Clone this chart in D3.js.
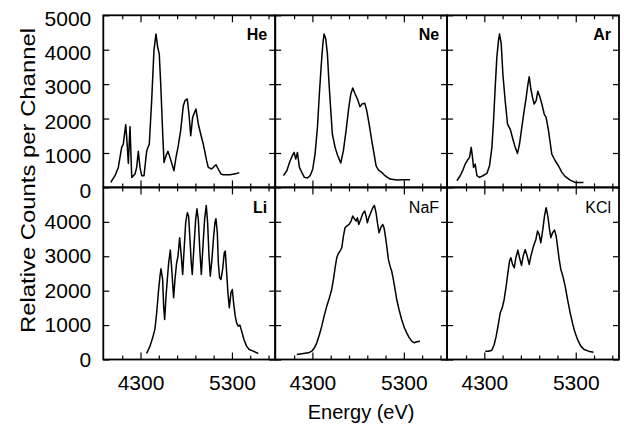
<!DOCTYPE html>
<html>
<head>
<meta charset="utf-8">
<script src="https://cdn.jsdelivr.net/npm/d3@7"></script>
<style>
body { margin: 0; background: #fff; }
text { font-family: "Liberation Sans", Arial, Helvetica, sans-serif; fill: #000; }
</style>
</head>
<body>
<div id="chart"></div>
<script>
// spectra: [energy (eV), relative counts per channel]
var heSpectrum = [[3974,145],[4021,340],[4057,581],[4094,1163],[4112,1262],[4138,1823],[4149,1454],[4167,698],
    [4185,1765],[4204,291],[4240,390],[4258,581],[4276,1047],[4294,581],[4313,340],[4338,340],[4368,1067],
    [4396,1262],[4422,2520],[4447,3974],[4469,4459],[4488,4070],[4505,3878],[4521,3006],[4543,1552],[4557,727],
    [4579,921],[4600,1047],[4622,872],[4644,680],[4666,485],[4688,872],[4713,1212],[4739,1648],[4768,2375],
    [4786,2520],[4811,2570],[4830,2134],[4849,1503],[4870,2035],[4906,2279],[4932,1843],[4958,1552],[4986,1262],
    [5023,776],[5041,581],[5078,535],[5125,660],[5150,535],[5180,390],[5205,369],[5278,369],[5351,407],[5380,427]];

var neSpectrum = [[3983,340],[4020,485],[4056,776],[4086,951],[4100,1017],[4118,826],[4136,1017],[4158,581],
    [4184,436],[4212,291],[4245,273],[4275,340],[4304,535],[4329,971],[4355,1744],[4376,2715],[4395,3488],
    [4414,4169],[4428,4459],[4446,4314],[4464,3878],[4482,3006],[4501,2230],[4518,1552],[4548,1163],[4577,921],
    [4610,709],[4639,1067],[4668,1648],[4698,2326],[4720,2715],[4741,2890],[4767,2715],[4792,2570],[4821,2346],
    [4843,2424],[4873,2442],[4894,2230],[4920,1843],[4949,1358],[4974,971],[4996,631],[5021,506],[5058,436],
    [5094,340],[5149,244],[5222,215],[5295,224],[5368,224]];

var arSpectrum = [[4000,194],[4036,339],[4066,504],[4091,678],[4117,795],[4138,872],[4157,1163],[4171,872],
    [4182,581],[4200,678],[4219,339],[4248,291],[4284,339],[4328,407],[4357,630],[4383,1163],[4401,1938],
    [4419,2907],[4437,3779],[4455,4264],[4466,4457],[4485,4167],[4503,3295],[4528,2519],[4554,1841],[4583,1696],
    [4612,1405],[4638,1163],[4663,988],[4685,1260],[4710,1744],[4736,2229],[4758,2616],[4772,2907],[4791,3217],
    [4809,2859],[4827,2616],[4845,2423],[4867,2519],[4885,2791],[4904,2665],[4929,2423],[4955,2132],[4976,2035],
    [5002,1647],[5038,969],[5075,775],[5111,630],[5148,436],[5184,320],[5239,213],[5293,145],[5384,145]];

var liSpectrum = [[4367,174],[4404,388],[4433,630],[4458,891],[4477,1357],[4495,1938],[4513,2423],[4524,2636],
    [4542,2326],[4553,1550],[4564,1163],[4579,1841],[4593,2326],[4608,2810],[4626,3178],[4644,2519],[4662,1793],
    [4677,2326],[4695,2810],[4710,3004],[4728,3537],[4746,3004],[4761,2471],[4779,3295],[4794,3973],[4812,4264],
    [4826,4167],[4841,3488],[4855,2810],[4866,2471],[4885,3295],[4903,4070],[4917,4380],[4932,4070],[4950,3101],
    [4965,2471],[4983,3295],[5001,4070],[5019,4477],[5034,3973],[5049,3004],[5063,2423],[5081,2907],[5100,3585],
    [5114,3973],[5125,4089],[5140,3682],[5151,2810],[5165,2374],[5180,2326],[5198,2616],[5216,3101],[5227,3149],
    [5242,2519],[5256,1938],[5271,1502],[5289,1938],[5304,2035],[5318,1647],[5336,1260],[5351,1066],[5369,969],
    [5387,998],[5406,824],[5431,581],[5460,388],[5489,291],[5533,242],[5588,174]];

var nafSpectrum = [[4129,145],[4202,174],[4256,194],[4293,242],[4322,339],[4348,485],[4377,727],[4402,969],
    [4428,1260],[4457,1550],[4486,1793],[4511,2035],[4530,2326],[4548,2665],[4566,2955],[4584,3081],[4602,3149],
    [4621,3246],[4639,3585],[4657,3828],[4675,3876],[4701,3924],[4723,4021],[4741,4167],[4759,4089],[4777,4021],
    [4792,4118],[4807,3924],[4828,4070],[4847,4215],[4858,4264],[4872,4312],[4887,4167],[4901,3973],[4916,4118],
    [4938,4264],[4960,4409],[4978,4477],[4996,4264],[5011,3973],[5029,3682],[5047,3828],[5069,3924],[5083,3828],
    [5098,3585],[5113,3295],[5131,2907],[5149,2713],[5167,2568],[5185,2326],[5204,2035],[5222,1744],[5247,1453],
    [5276,1163],[5306,921],[5331,775],[5360,630],[5386,533],[5415,485],[5440,514],[5477,533]];

var kclSpectrum = [[4310,242],[4346,242],[4383,271],[4408,436],[4430,678],[4456,1066],[4474,1357],[4496,1502],
    [4517,1744],[4539,2132],[4558,2519],[4576,2859],[4590,2955],[4609,2762],[4627,2665],[4645,2955],[4667,3178],
    [4685,2955],[4707,2733],[4725,3004],[4747,3198],[4769,3004],[4791,2762],[4809,3004],[4838,3295],[4864,3488],
    [4882,3731],[4900,3634],[4918,3392],[4940,3779],[4958,4167],[4976,4409],[4995,4167],[5013,3779],[5027,3537],
    [5046,3682],[5068,3760],[5086,3585],[5100,3295],[5119,2907],[5137,2616],[5159,2423],[5184,2132],[5210,1744],
    [5239,1357],[5268,1017],[5293,775],[5323,562],[5355,388],[5392,291],[5439,242],[5494,213]];

var panelNames = ["He", "Ne", "Ar", "Li", "NaF", "KCl"];
var spectra = [heSpectrum, neSpectrum, arSpectrum, liSpectrum, nafSpectrum, kclSpectrum];

var yTicksTop = [0, 1000, 2000, 3000, 4000, 5000];
var yTicksBottom = [0, 1000, 2000, 3000, 4000];
var xLabelTicks = [4300, 5300];
var xMinorTicks = [4100, 4500, 4700, 4900, 5100, 5500, 5700];
var energyDomain = [3893, 5773];
var countDomain = [0, 5000];

var width = 624, height = 430;
var margin = {top: 15.3, left: 103.3};
var panelW = 171.9, panelH = 172.1;
var fontStack = '"Liberation Sans", Arial, Helvetica, sans-serif';

var svg = d3.select("#chart")
    .append("svg")
    .attr("width", width)
    .attr("height", height);

var x = d3.scaleLinear().domain(energyDomain).range([0, panelW]);
var y = d3.scaleLinear().domain(countDomain).range([panelH, 0]);

var line = d3.line()
    .x(function (d) { return x(d[0]); })
    .y(function (d) { return y(d[1]); });

// small helper to strip axis domain path and style ticks
function styleAxis(g) {
    g.select(".domain").remove();
    g.selectAll(".tick line").attr("stroke", "#000").attr("stroke-width", 1.2);
    g.attr("font-size", 21).attr("font-family", fontStack);
}

spectra.forEach(function (spec, i) {
    var col = i % 3, row = Math.floor(i / 3);
    var yTicks = row === 0 ? yTicksTop : yTicksBottom;

    var g = svg.append("g")
        .attr("transform", "translate(" + (margin.left + col * panelW) + "," + (margin.top + row * panelH) + ")");

    // y ticks, inward on both sides; labels only on the first column
    var left = g.append("g")
        .call(d3.axisLeft(y).tickValues(yTicks).tickSize(-6).tickPadding(12)
            .tickFormat(col === 0 ? d3.format("d") : ""))
        .call(styleAxis);
    if (row === 0) left.selectAll("text").attr("transform", "translate(0,3)");

    g.append("g")
        .attr("transform", "translate(" + panelW + ",0)")
        .call(d3.axisRight(y).tickValues(yTicks).tickSize(-6).tickFormat(""))
        .call(styleAxis);

    // x ticks top and bottom, long at labelled values
    g.append("g")
        .attr("transform", "translate(0," + panelH + ")")
        .call(d3.axisBottom(x).tickValues(xLabelTicks).tickSize(-7).tickPadding(15.6)
            .tickFormat(row === 1 ? d3.format("d") : ""))
        .call(styleAxis);
    g.append("g")
        .attr("transform", "translate(0," + panelH + ")")
        .call(d3.axisBottom(x).tickValues(xMinorTicks).tickSize(-4).tickFormat(""))
        .call(styleAxis);
    g.append("g")
        .call(d3.axisTop(x).tickValues(xLabelTicks).tickSize(-7).tickFormat(""))
        .call(styleAxis);
    g.append("g")
        .call(d3.axisTop(x).tickValues(xMinorTicks).tickSize(-4).tickFormat(""))
        .call(styleAxis);

    g.append("path")
        .datum(spec)
        .attr("d", line)
        .attr("fill", "none")
        .attr("stroke", "#000")
        .attr("stroke-width", 1.5)
        .attr("stroke-linejoin", "round");

    g.append("rect")
        .attr("width", panelW)
        .attr("height", panelH)
        .attr("fill", "none")
        .attr("stroke", "#000")
        .attr("stroke-width", 1.8);

    g.append("text")
        .attr("x", panelW - 8)
        .attr("y", row === 0 ? 24.7 : 25.8)
        .attr("text-anchor", "end")
        .attr("font-size", 16)
        .attr("font-weight", i < 4 ? "bold" : "normal")
        .text(panelNames[i]);
});

// axis titles
svg.append("text")
    .attr("transform", "translate(35,180.5) rotate(-90)")
    .attr("text-anchor", "middle")
    .attr("font-size", 21)
    .attr("textLength", 305)
    .attr("lengthAdjust", "spacingAndGlyphs")
    .text("Relative Counts per Channel");

svg.append("text")
    .attr("x", margin.left + 1.5 * panelW)
    .attr("y", 419.3)
    .attr("text-anchor", "middle")
    .attr("font-size", 20)
    .text("Energy (eV)");
</script>
</body>
</html>
